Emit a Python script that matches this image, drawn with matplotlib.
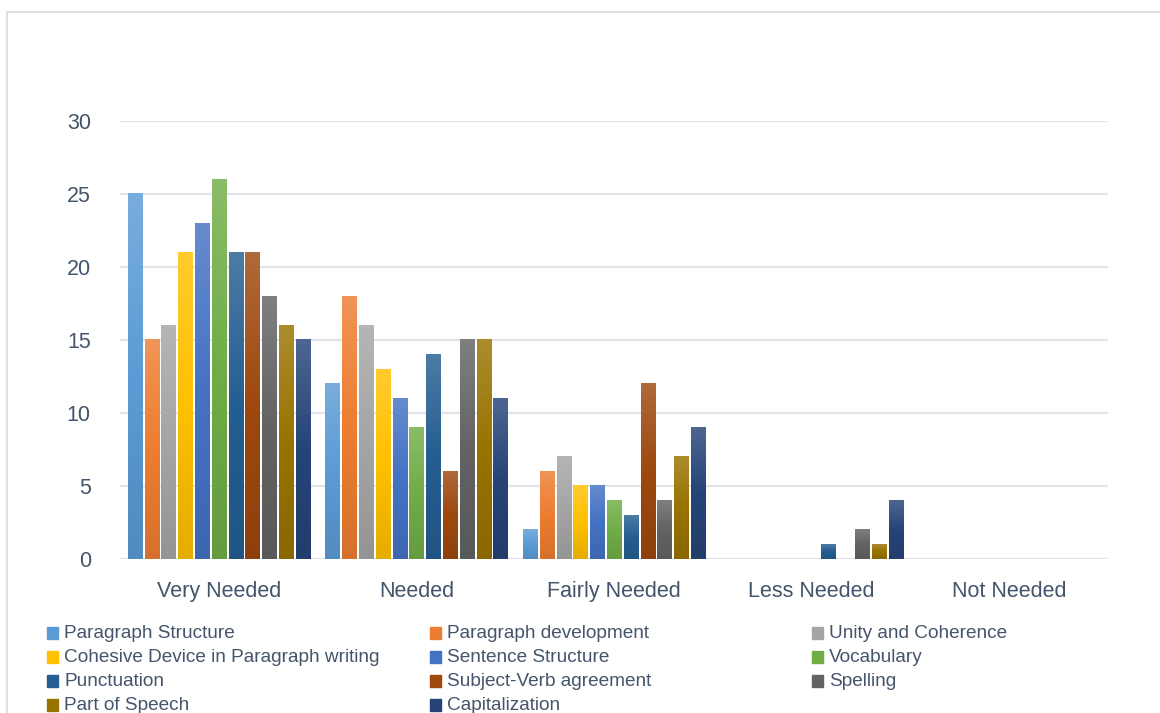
import numpy as np
import matplotlib.pyplot as plt
from matplotlib.patches import Rectangle
from matplotlib.lines import Line2D
from matplotlib.colors import to_rgb

plt.rcParams['font.family'] = ['Liberation Sans Narrow', 'Liberation Sans', 'DejaVu Sans']

# Data
categories = ['Very Needed', 'Needed', 'Fairly Needed', 'Less Needed', 'Not Needed']
series = ['Paragraph Structure', 'Paragraph development', 'Unity and Coherence',
          'Cohesive Device in Paragraph writing', 'Sentence Structure', 'Vocabulary',
          'Punctuation', 'Subject-Verb agreement', 'Spelling', 'Part of Speech',
          'Capitalization']
paragraph_structure = [25, 12, 2, 0, 0]
paragraph_development = [15, 18, 6, 0, 0]
unity_coherence = [16, 16, 7, 0, 0]
cohesive_device = [21, 13, 5, 0, 0]
sentence_structure = [23, 11, 5, 0, 0]
vocabulary = [26, 9, 4, 0, 0]
punctuation = [21, 14, 3, 1, 0]
subject_verb = [21, 6, 12, 0, 0]
spelling = [18, 15, 4, 2, 0]
part_of_speech = [16, 15, 7, 1, 0]
capitalization = [15, 11, 9, 4, 0]
values = [paragraph_structure, paragraph_development, unity_coherence, cohesive_device,
          sentence_structure, vocabulary, punctuation, subject_verb, spelling,
          part_of_speech, capitalization]
colors = ['#5B9BD5', '#ED7D31', '#A5A5A5', '#FFC000', '#4472C4', '#70AD47',
          '#255E91', '#9E480E', '#636363', '#997300', '#264478']

W, H = 1160, 713
fig = plt.figure(figsize=(W / 100, H / 100), dpi=100)
ax = fig.add_axes([120 / W, 1 - 559 / H, (1108 - 120) / W, (559 - 121) / H])

# outer frame (top and left edges only)
frame = '#DDE1E6'
fig.lines.append(Line2D([7 / W, 1.0], [1 - 12 / H, 1 - 12 / H],
                        transform=fig.transFigure, color=frame, linewidth=1.5))
fig.lines.append(Line2D([7 / W, 7 / W], [0, 1 - 12 / H],
                        transform=fig.transFigure, color=frame, linewidth=1.5))


def shade(c, f):
    c = np.array(to_rgb(c))
    if f > 0:
        return c + (1 - c) * f
    return c * (1 + f)


x = np.arange(len(categories))
slot = 0.085
bw = 0.071
for i, (vals, col) in enumerate(zip(values, colors)):
    offs = (i - (len(series) - 1) / 2) * slot
    bars = ax.bar(x + offs, vals, width=bw, color=col, zorder=2)
    grad = np.array([shade(col, 0.18), shade(col, 0.0), shade(col, -0.1)])
    for b in bars:
        h = b.get_height()
        if h <= 0:
            continue
        t = np.linspace(0, 1, 64)[:, None]
        img = np.where(t < 0.5, grad[0] + (grad[1] - grad[0]) * (t / 0.5),
                       grad[1] + (grad[2] - grad[1]) * ((t - 0.5) / 0.5))
        ax.imshow(img[:, None, :], extent=[b.get_x(), b.get_x() + b.get_width(), 0, h],
                  aspect='auto', zorder=3, interpolation='bilinear')

ax.set_xlim(-0.5, len(categories) - 0.5)
ax.set_ylim(0, 30)
ax.set_yticks(range(0, 31, 5))
ax.set_xticks(x)
ax.set_xticklabels(categories)
ax.yaxis.grid(True, color='#E1E4EA', linewidth=1.6, zorder=0)
ax.set_axisbelow(True)
for s in ax.spines.values():
    s.set_visible(False)
ax.tick_params(length=0, labelsize=15.5, colors='#44546A', pad=16)
ax.tick_params(axis='y', pad=21)
ax.axhline(0, color='#E1E4EA', linewidth=1.6, zorder=1)

# legend, row-wise in three columns
col_x = [47, 430, 812]
row_y = [633, 657, 681, 705]
for i, (name, col) in enumerate(zip(series, colors)):
    r, c = divmod(i, 3)
    lx, ly = col_x[c], row_y[r]
    fig.patches.append(Rectangle((lx / W, 1 - (ly + 6) / H), 11 / W, 12 / H,
                                 transform=fig.transFigure, color=col))
    fig.text((lx + 17) / W, 1 - ly / H, name, fontsize=13.7, color='#44546A',
             va='center', ha='left')

fig.savefig('out.png', dpi=100)
